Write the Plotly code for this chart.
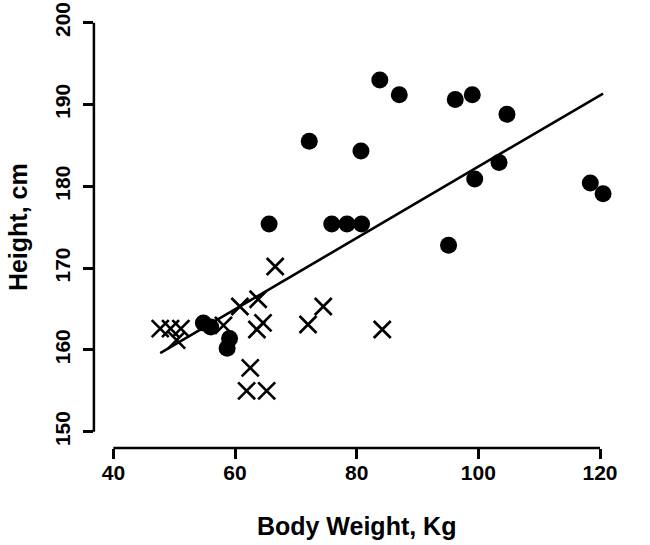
import plotly.graph_objects as go
import numpy as np

# Group 1 (filled circles)
circle_weight = [83.8, 87.0, 96.2, 99.0, 104.7, 72.2, 80.7, 103.4, 99.4, 118.4, 120.5,
                 65.6, 75.9, 78.4, 80.8, 95.1, 54.8, 56.0, 59.1, 58.7]
circle_height = [193.0, 191.2, 190.6, 191.2, 188.8, 185.5, 184.3, 182.9, 180.9, 180.4, 179.1,
                 175.4, 175.4, 175.4, 175.4, 172.8, 163.3, 162.8, 161.4, 160.2]

# Group 2 (crosses)
cross_weight = [66.6, 63.8, 60.8, 74.5, 64.6, 63.6, 72.0, 84.2, 62.5, 61.9, 65.2,
                58.1, 47.7, 49.4, 51.1, 50.4]
cross_height = [170.2, 166.2, 165.3, 165.3, 163.3, 162.5, 163.1, 162.5, 157.8, 155.0, 155.0,
                163.0, 162.6, 162.6, 162.6, 161.2]

# Regression line
fit_intercept = 138.8
fit_slope = 0.436

x_ticks = [40, 60, 80, 100, 120]
y_ticks = [150, 160, 170, 180, 190, 200]

all_x = circle_weight + cross_weight
line_x = np.array([min(all_x), max(all_x)])
line_y = fit_intercept + fit_slope * line_x

# R-style axis ranges: 4% padding around the tick span
x_pad = 0.04 * (x_ticks[-1] - x_ticks[0])
y_pad = 0.04 * (y_ticks[-1] - y_ticks[0])
x_range = [x_ticks[0] - x_pad, x_ticks[-1] + x_pad]
y_range = [y_ticks[0] - y_pad, y_ticks[-1] + y_pad]

W, H = 650, 545
font_family = "Liberation Sans, Arial, sans-serif"

# plot region in pixels
px_left, px_right = 93.9, 619.5
px_top, px_bottom = 6.3, 448.1
x_dom = [px_left / W, px_right / W]
y_dom = [1 - px_bottom / H, 1 - px_top / H]

fig = go.Figure()
fig.add_trace(go.Scatter(
    x=line_x, y=line_y, mode="lines",
    line=dict(color="black", width=2.6), showlegend=False, hoverinfo="skip"))
fig.add_trace(go.Scatter(
    x=cross_weight, y=cross_height, mode="markers",
    marker=dict(symbol="x-thin", size=17, color="black",
                line=dict(color="black", width=2.7)),
    showlegend=False))
fig.add_trace(go.Scatter(
    x=circle_weight, y=circle_height, mode="markers",
    marker=dict(symbol="circle", size=17, color="black",
                line=dict(width=0)),
    showlegend=False))

# detached R-style axis lines spanning only the tick range
fig.add_shape(type="line", xref="x", yref="paper",
              x0=x_ticks[0], x1=x_ticks[-1], y0=y_dom[0], y1=y_dom[0],
              line=dict(color="black", width=2.5))
fig.add_shape(type="line", xref="paper", yref="y",
              x0=x_dom[0], x1=x_dom[0], y0=y_ticks[0], y1=y_ticks[-1],
              line=dict(color="black", width=2.5))

fig.update_layout(
    width=W, height=H,
    margin=dict(l=0, r=0, t=0, b=0),
    paper_bgcolor="white", plot_bgcolor="white",
    font=dict(family=font_family, color="black"),
    xaxis=dict(
        domain=x_dom, range=x_range,
        tickvals=x_ticks, ticktext=[str(v) for v in x_ticks],
        showline=False,
        ticks="outside", ticklen=10, tickwidth=2.5, tickcolor="black",
        showgrid=False, zeroline=False,
        tickfont=dict(size=21, family=font_family, weight="bold"),
        ticklabelstandoff=-4,
        title=dict(text="Body Weight, Kg", standoff=34,
                   font=dict(size=25, family=font_family, weight="bold")),
        automargin=False,
    ),
    yaxis=dict(
        domain=y_dom, range=y_range,
        tickvals=y_ticks, ticktext=[str(v) for v in y_ticks],
        showline=False,
        ticks="outside", ticklen=10, tickwidth=2.5, tickcolor="black",
        showgrid=False, zeroline=False,
        tickangle=-90,
        tickfont=dict(size=21, family=font_family, weight="bold"),
        ticklabelstandoff=5,
        title=dict(text="Height, cm", standoff=15,
                   font=dict(size=25, family=font_family, weight="bold")),
        automargin=False,
    ),
)

fig.write_html("out.html", config={"displayModeBar": False},
               post_script="document.body.style.margin='0';")
